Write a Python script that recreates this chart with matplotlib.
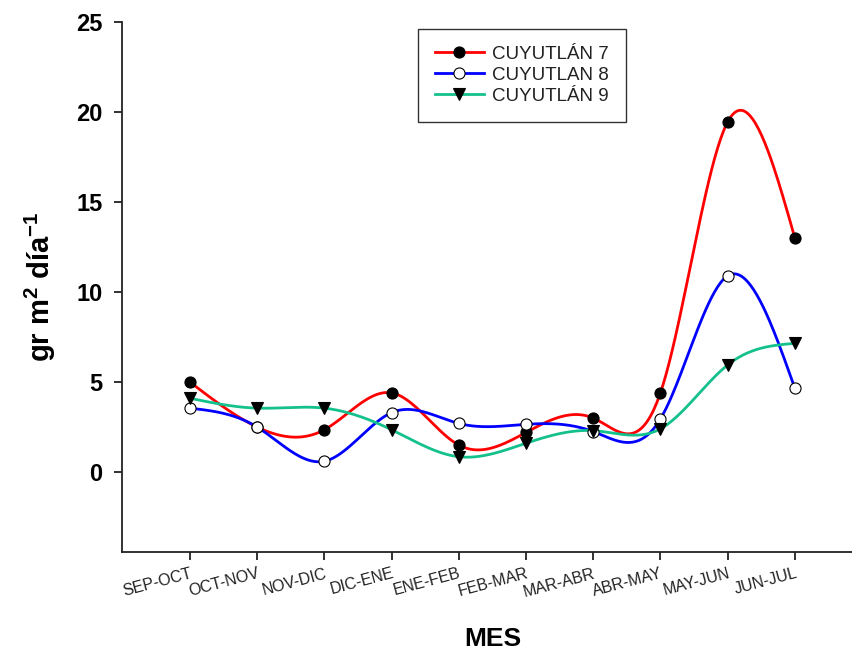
import numpy as np
import matplotlib
matplotlib.use("Agg")
import matplotlib.pyplot as plt
from matplotlib.lines import Line2D

plt.rcParams["font.family"] = ["Liberation Sans", "DejaVu Sans"]
plt.rcParams["mathtext.fontset"] = "custom"
plt.rcParams["mathtext.rm"] = "Liberation Sans:bold"
plt.rcParams["mathtext.bf"] = "Liberation Sans:bold"

months = ["SEP-OCT", "OCT-NOV", "NOV-DIC", "DIC-ENE", "ENE-FEB",
          "FEB-MAR", "MAR-ABR", "ABR-MAY", "MAY-JUN", "JUN-JUL"]
cuyutlan_7 = [5.0, 2.5, 2.35, 4.4, 1.5, 2.2, 3.0, 4.4, 19.45, 13.0]
cuyutlan_8 = [3.55, 2.5, 0.6, 3.3, 2.7, 2.65, 2.25, 2.95, 10.9, 4.65]
cuyutlan_9 = [4.1, 3.55, 3.55, 2.35, 0.85, 1.6, 2.3, 2.4, 5.95, 7.15]

SERIES = [
    ("CUYUTLÁN 7", cuyutlan_7, "#ff0000", "o", "black"),
    ("CUYUTLAN 8", cuyutlan_8, "#0000ff", "o", "white"),
    ("CUYUTLÁN 9", cuyutlan_9, "#14c08c", "v", "black"),
]


def natural_spline(x, y, n=400):
    # natural cubic spline through the points, just for drawing the curve
    x = np.asarray(x, float)
    y = np.asarray(y, float)
    k = len(x)
    h = np.diff(x)
    A = np.zeros((k, k))
    b = np.zeros(k)
    A[0, 0] = A[-1, -1] = 1.0
    for i in range(1, k - 1):
        A[i, i - 1] = h[i - 1]
        A[i, i] = 2 * (h[i - 1] + h[i])
        A[i, i + 1] = h[i]
        b[i] = 3 * ((y[i + 1] - y[i]) / h[i] - (y[i] - y[i - 1]) / h[i - 1])
    c = np.linalg.solve(A, b)
    xs = np.linspace(x[0], x[-1], n)
    idx = np.clip(np.searchsorted(x, xs) - 1, 0, k - 2)
    dx = xs - x[idx]
    hi = h[idx]
    bb = (y[idx + 1] - y[idx]) / hi - hi * (2 * c[idx] + c[idx + 1]) / 3
    dd = (c[idx + 1] - c[idx]) / (3 * hi)
    ys = y[idx] + bb * dx + c[idx] * dx ** 2 + dd * dx ** 3
    return xs, ys


fig = plt.figure(figsize=(8.52, 6.59), dpi=100)
ax = fig.add_axes([0.1432, 0.1624, 0.8568, 0.8042])

xpos = np.arange(len(months))
handles = []
for label, vals, color, marker, face in SERIES:
    xs, ys = natural_spline(xpos, vals)
    ax.plot(xs, ys, color=color, lw=2.0, zorder=2)
    handles.append(Line2D([], [], color=color, lw=2.0, marker=marker,
                          markersize=8, markerfacecolor=face,
                          markeredgecolor="black", markeredgewidth=0.8,
                          label=label))
for label, vals, color, marker, face in SERIES:
    ax.plot(xpos, vals, ls="none", marker=marker, markersize=8,
            markerfacecolor=face, markeredgecolor="black",
            markeredgewidth=0.8, zorder=3)

ax.set_xlim(-1.01, 9.85)
ax.set_ylim(-4.44, 25)
ax.set_yticks([0, 5, 10, 15, 20, 25])
ax.set_xticks(xpos)
ax.set_xticklabels(months, rotation=15, ha="right", rotation_mode="anchor",
                   fontsize=11.5, color="#222222")
for t in ax.get_yticklabels():
    t.set_fontweight("bold")
    t.set_fontsize(17)
ax.tick_params(axis="both", direction="out", length=6, width=1.3,
               color="#222222")
ax.tick_params(axis="y", pad=8)
ax.tick_params(axis="x", pad=4)

for side in ["top", "right"]:
    ax.spines[side].set_visible(False)
for side in ["left", "bottom"]:
    ax.spines[side].set_linewidth(1.3)
    ax.spines[side].set_color("#222222")

ax.set_ylabel(r"gr m$^{2}$ día$^{-1}$", fontsize=21, fontweight="bold")
ax.yaxis.set_label_coords(-0.088, 0.5)
fig.text(493 / 852, 1 - 639 / 659, "MES", fontsize=19, fontweight="bold",
         ha="center", va="center")

leg = ax.legend(handles=handles, loc="upper left",
                bbox_to_anchor=((418 - 122) / 730, (552 - 29) / 530),
                fontsize=13.5, frameon=True, fancybox=False, handlelength=2.6,
                borderpad=0.9, labelspacing=0.2, handletextpad=0.45,
                borderaxespad=0)
leg.get_frame().set_edgecolor("black")
leg.get_frame().set_linewidth(1.0)
for t in leg.get_texts():
    t.set_color("#222222")

fig.savefig("out.png", dpi=100)
